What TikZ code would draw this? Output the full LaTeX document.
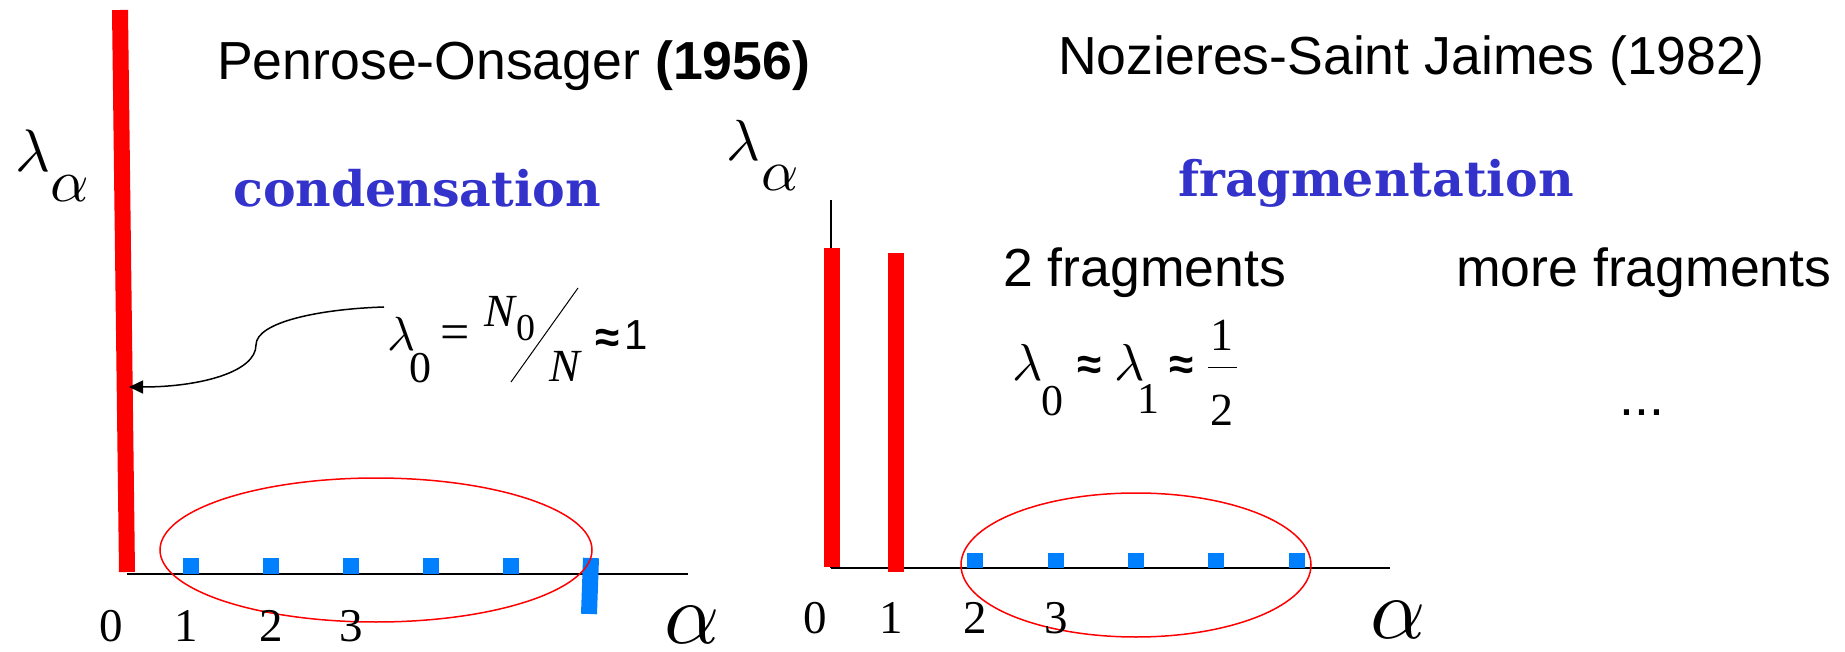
\documentclass[tikz,border=0pt]{standalone}
\usepackage{graphicx}
\usepackage{fontspec}
\setmainfont{Liberation Sans}
\newfontfamily\tms{Liberation Serif}
\newfontfamily\slab{DejaVu Serif}
\usetikzlibrary{arrows.meta}
\definecolor{barred}{HTML}{FF0000}
\definecolor{barblue}{HTML}{0080FF}
\definecolor{headblue}{HTML}{3333CC}
\newcommand\gk[2]{\scalebox{#1}{$#2$}}
\begin{document}
\begin{tikzpicture}[x=1pt,y=-1pt,
  title/.style={font=\fontsize{53.6}{60}\selectfont, inner sep=0, anchor=base west},
  headline/.style={font=\fontsize{49}{58}\slab\bfseries, text=headblue, inner sep=0, anchor=base west},
  gr/.style={inner sep=0},
  it/.style={font=\fontsize{#1}{#1}\tms\itshape, inner sep=0},
  rm/.style={font=\fontsize{#1}{#1}\tms, inner sep=0},
  sf/.style={font=\fontsize{#1}{#1}\selectfont, inner sep=0},
  bigbar/.style={draw=barred, line width=16pt},
  smallbar/.style={fill=barblue},
  ring/.style={draw=barred, line width=1.5pt},
  axisline/.style={draw=black, line width=1.5pt}]
\useasboundingbox[fill=white] (0,0) rectangle (1845,652);

% ---------------- left panel ----------------
\draw[axisline] (127,574) -- (688,574);
\draw[bigbar] (120,10) -- (127,572);
\foreach \c in {191,271,351,431,511} {
  \fill[smallbar] (\c-8,558) rectangle (\c+8,574);
}
\draw[barblue, line width=16pt] (591,558) -- (589,614);
\draw[ring] (376,550) ellipse [x radius=216, y radius=72];

\node[gr] (lamL) at (33,151) {\gk{6.0}{\lambda}};
\node[gr] (alpL) at (70,189) {\gk{6.0}{\alpha}};

\node[title] (t1) at (217,80) {Penrose-Onsager \textbf{(1956)}};
\node[headline] (cond) at (233,207) {condensation};

\node[rm=47] (l0) at (111,626) {0};
\node[rm=47] (l1) at (186,626) {1};
\node[rm=47] (l2) at (271,626) {2};
\node[rm=47] (l3) at (351,626) {3};
\node[gr] (axL) at (692,625) {\gk{8.6}{\alpha}};

% formula lambda_0 = N_0 / N ~ 1
\node[gr] (fl) at (401,334) {\gk{4.8}{\lambda}};
\node[rm=44] (fl0) at (420,368) {0};
\node[rm=52] (feq) at (455,338) {=};
\node[it=46] (fN0) at (500,311) {N};
\node[rm=38] (fN00) at (526,328) {0};
\coordinate (slA) at (578,288);
\coordinate (slB) at (511,382);
\draw[line width=1pt] (slA) -- (slB);
\node[it=46] (fN) at (565,366) {N};
\node[sf=44] (fap) at (608,341) {\bfseries ≈};
\node[sf=42] (fone) at (636,335) {1};

\coordinate (arrS) at (384,307);
\coordinate (arrE) at (129,387);
\draw[line width=1.5pt, -{Triangle[length=14pt,width=13pt]}]
  (arrS) .. controls (320,309) and (256,322) .. (256,345)
         .. controls (256,372) and (200,387) .. (arrE);

% ---------------- right panel ----------------
\draw[line width=1.2pt] (831,200) -- (831,568);
\draw[axisline] (831,568) -- (1390,568);
\draw[bigbar] (832,248) -- (832,567);
\draw[bigbar] (896,253) -- (896,572);
\foreach \c in {975,1056,1136,1216,1297} {
  \fill[smallbar] (\c-8,553) rectangle (\c+8,568);
}
\draw[ring] (1136,565) ellipse [x radius=175, y radius=72];

\node[gr] (lamR) at (743,140) {\gk{5.8}{\lambda}};
\node[gr] (alpR) at (780,178) {\gk{5.8}{\alpha}};

\node[title] (t2) at (1058,75) {Nozieres-Saint Jaimes (1982)};
\node[headline] (frag) at (1178,197) {fragmentation};
\node[title] (two) at (1003,287) {2 fragments};
\node[title] (more) at (1456,287) {more fragments};
\node[title] (dots) at (1619,415) {...};

\node[rm=47] (r0) at (815,618) {0};
\node[rm=47] (r1) at (891,618) {1};
\node[rm=47] (r2) at (975,618) {2};
\node[rm=47] (r3) at (1056,618) {3};
\node[gr] (axR) at (1398,620) {\gk{8.6}{\alpha}};

\node[gr] (gl0) at (1028,362) {\gk{5.2}{\lambda}};
\node[rm=44] (gs0) at (1052,401) {0};
\node[sf=44] (gap1) at (1090,368) {\bfseries ≈};
\node[gr] (gl1) at (1130,362) {\gk{5.2}{\lambda}};
\node[rm=44] (gs1) at (1148,399) {1};
\node[sf=44] (gap2) at (1182,368) {\bfseries ≈};
\node[rm=46] (gnum) at (1222,335) {1};
\coordinate (fbA) at (1208,367);
\coordinate (fbB) at (1237,367);
\draw[line width=1pt] (fbA) -- (fbB);
\node[rm=46] (gden) at (1222,410) {2};
\end{tikzpicture}
\end{document}
